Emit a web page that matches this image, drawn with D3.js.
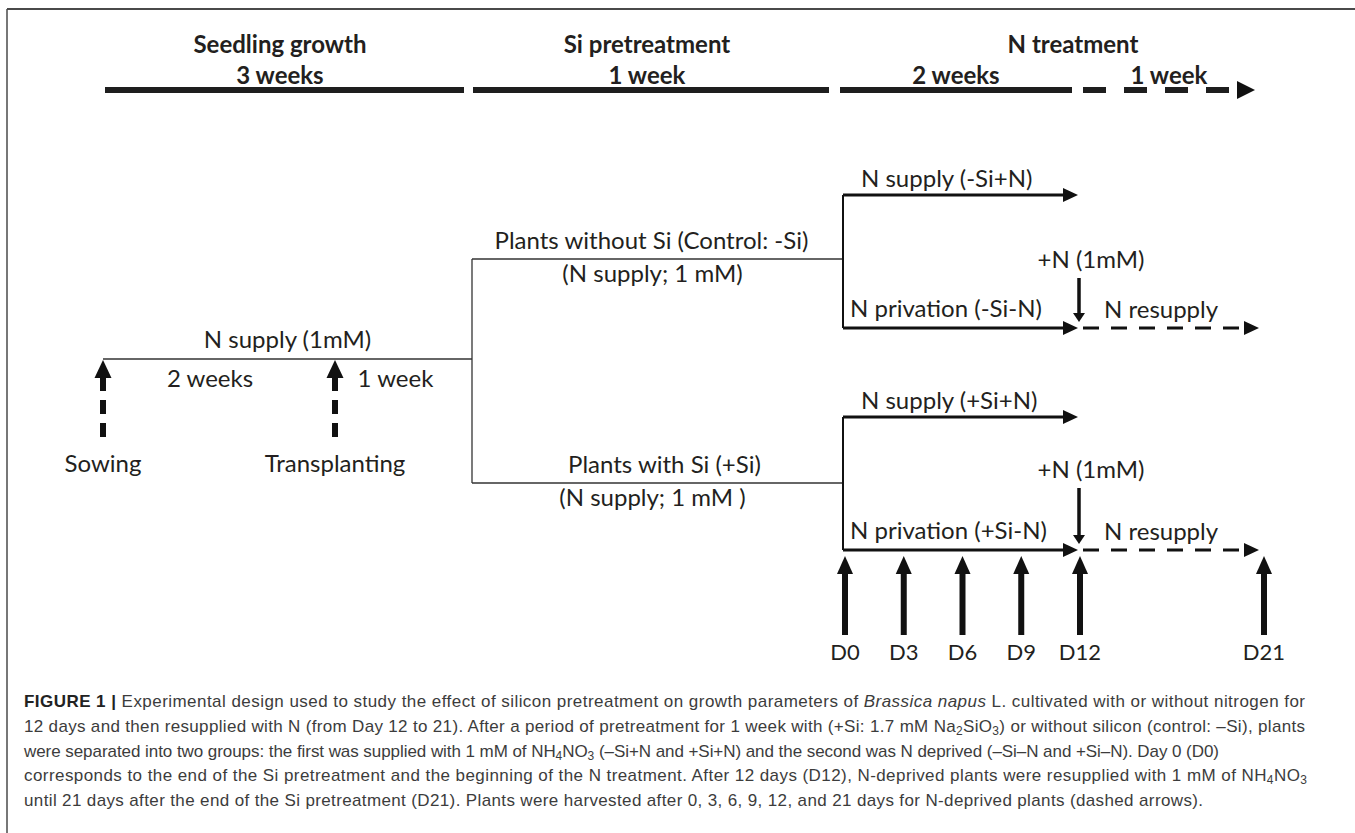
<!DOCTYPE html>
<html>
<head>
<meta charset="utf-8">
<title>Experimental design</title>
<script src="https://cdn.jsdelivr.net/npm/d3@7"></script>
<style>
  body { margin: 0; background: #fff; }
  svg text { fill: #231f20; }
  .cap text { fill: #3c3c3c; }
</style>
</head>
<body>
<svg id="fig" width="1355" height="833"></svg>
<script>
// ---- data (days are counted from D0, the end of Si pretreatment) ----
var phaseNames = ["Seedling growth", "Si pretreatment", "N treatment"];
var phaseDurations = ["3 weeks", "1 week", ""];
var phaseDays = [[-28, -7], [-7, 0], [0, 21]];
var nPeriodLabels = ["2 weeks", "1 week"];
var nPeriodDays = [[0, 14], [14, 21]];

var seedEvents = ["Sowing", "Transplanting"];
var seedEventDays = [-28, -14];
var seedPeriodLabels = ["2 weeks", "1 week"];
var seedPeriodDays = [[-28, -14], [-14, -7]];
var trunkLabel = "N supply (1mM)";

var siGroups = ["Plants without Si (Control: -Si)", "Plants with Si (+Si)"];
var siSupplyLabels = ["(N supply; 1 mM)", "(N supply; 1 mM )"];
var nSupplyLabels = ["N supply (-Si+N)", "N supply (+Si+N)"];
var nPrivationLabels = ["N privation (-Si-N)", "N privation (+Si-N)"];
var resupplyLabel = "N resupply";
var resupplyDose = "+N (1mM)";
var resupplyDay = 12;
var endDay = 21;

var harvestDays = [0, 3, 6, 9, 12, 21];
var harvestLabels = ["D0", "D3", "D6", "D9", "D12", "D21"];

var captionLines = [
  [["FIGURE 1 | ", "b"], ["Experimental design used to study the effect of silicon pretreatment on growth parameters of "], ["Brassica napus", "i"], [" L. cultivated with or without nitrogen for"]],
  [["12 days and then resupplied with N (from Day 12 to 21). After a period of pretreatment for 1 week with (+Si: 1.7 mM Na"], ["2", "sub"], ["SiO"], ["3", "sub"], [") or without silicon (control: \u2013Si), plants"]],
  [["were separated into two groups: the first was supplied with 1 mM of NH"], ["4", "sub"], ["NO"], ["3", "sub"], [" (\u2013Si+N and +Si+N) and the second was N deprived (\u2013Si\u2013N and +Si\u2013N). Day 0 (D0)"]],
  [["corresponds to the end of the Si pretreatment and the beginning of the N treatment. After 12 days (D12), N-deprived plants were resupplied with 1 mM of NH"], ["4", "sub"], ["NO"], ["3", "sub"]],
  [["until 21 days after the end of the Si pretreatment (D21). Plants were harvested after 0, 3, 6, 9, 12, and 21 days for N-deprived plants (dashed arrows)."]]
];
var captionLineEnds = [1305, 1305, 1219, 1307, 1203];

// ---- layout ----
var font = "Lato, 'Open Sans', sans-serif";
var svg = d3.select("#fig");

// timeline of the plants (piecewise: the drawing is not to scale)
var x = d3.scaleLinear().domain([-28, -14, -7, 0, 12, 21]).range([103, 335, 472, 843, 1078, 1262]);
// top ruler
var hx = d3.scaleLinear().domain([-28, -7, 0, 14, 21]).range([101, 469, 835, 1078, 1255]);

var yTrunk = 359;
var ySi = [259, 483];
var groupRows = [
  { supply: 195, priv: 328, doseText: 268, doseTop: 278 },
  { supply: 417, priv: 550, doseText: 478, doseTop: 488 }
];

// frame (top and left rule)
svg.append("line").attr("x1", 7).attr("x2", 1355).attr("y1", 9).attr("y2", 9)
  .attr("stroke", "#4a4a4a").attr("stroke-width", 2);
svg.append("line").attr("x1", 7).attr("x2", 7).attr("y1", 9).attr("y2", 833)
  .attr("stroke", "#4a4a4a").attr("stroke-width", 1.5);

function label(g, txt, px, py, anchor, opts) {
  opts = opts || {};
  return g.append("text").attr("x", px).attr("y", py)
    .attr("text-anchor", anchor || "middle")
    .attr("font-family", font)
    .attr("font-size", opts.size || 24)
    .attr("font-weight", opts.weight || 400)
    .text(txt);
}

// arrow head pointing in direction: "right", "up", "down"
function head(g, tipX, tipY, dir, len, wid) {
  var pts;
  if (dir === "right") pts = [[tipX, tipY], [tipX - len, tipY - wid / 2], [tipX - len, tipY + wid / 2]];
  else if (dir === "up") pts = [[tipX, tipY], [tipX - wid / 2, tipY + len], [tipX + wid / 2, tipY + len]];
  else pts = [[tipX, tipY], [tipX - wid / 2, tipY - len], [tipX + wid / 2, tipY - len]];
  g.append("path").attr("d", d3.line()(pts) + "Z").attr("fill", "#111");
}

// ---- top ruler ----
var ruler = svg.append("g");
phaseNames.forEach(function (name, i) {
  var d = phaseDays[i];
  var cx = i < 2 ? (hx(d[0]) + hx(d[1])) / 2 - 5 : hx(nPeriodDays[0][1]) - 5;
  label(ruler, name, cx, 53, "middle", { weight: 700, size: 24 });
  if (phaseDurations[i]) label(ruler, phaseDurations[i], cx, 84, "middle", { weight: 700, size: 24 });
});
[[phaseDays[0], 4, 5], [phaseDays[1], 4, 6]].forEach(function (p) {
  ruler.append("line").attr("x1", hx(p[0][0]) + p[1]).attr("x2", hx(p[0][1]) - p[2])
    .attr("y1", 90).attr("y2", 90).attr("stroke", "#1e1e1e").attr("stroke-width", 6);
});
nPeriodLabels.forEach(function (lab, i) {
  var d = nPeriodDays[i];
  var x0 = hx(d[0]) + 5, x1 = hx(d[1]) - (i === 0 ? 6 : 18);
  label(ruler, lab, (x0 + x1 + (i === 0 ? 0 : 18)) / 2, 84, "middle", { weight: 700, size: 24 });
  ruler.append("line").attr("x1", x0).attr("x2", x1).attr("y1", 90).attr("y2", 90)
    .attr("stroke", "#1e1e1e").attr("stroke-width", 6)
    .attr("stroke-dasharray", i === 0 ? null : "23 18");
  if (i === 1) head(ruler, hx(d[1]), 90, "right", 18, 18);
});

// ---- seedling trunk ----
var tree = svg.append("g");
tree.append("line").attr("x1", x(-28)).attr("x2", x(-7)).attr("y1", yTrunk).attr("y2", yTrunk)
  .attr("stroke", "#333").attr("stroke-width", 1.3);
label(tree, trunkLabel, (x(-28) + x(-7)) / 2, yTrunk - 11, "middle");
seedPeriodLabels.forEach(function (lab, i) {
  var cx = (x(seedPeriodDays[i][0]) + x(seedPeriodDays[i][1])) / 2 - (i ? 8 : 9);
  label(tree, lab, cx, yTrunk + 28, "middle");
});
seedEvents.forEach(function (ev, i) {
  var ex = x(seedEventDays[i]);
  head(tree, ex, yTrunk + 1, "up", 18, 17);
  tree.append("line").attr("x1", ex).attr("x2", ex).attr("y1", yTrunk + 18).attr("y2", yTrunk + 81)
    .attr("stroke", "#111").attr("stroke-width", 6).attr("stroke-dasharray", "14 9");
  label(tree, ev, ex, yTrunk + 113, "middle");
});

// ---- Si split ----
tree.append("line").attr("x1", x(-7)).attr("x2", x(-7)).attr("y1", ySi[0]).attr("y2", ySi[1])
  .attr("stroke", "#333").attr("stroke-width", 1.3);
siGroups.forEach(function (g, i) {
  tree.append("line").attr("x1", x(-7)).attr("x2", x(0)).attr("y1", ySi[i]).attr("y2", ySi[i])
    .attr("stroke", "#333").attr("stroke-width", 1.3);
  var cx = (x(-7) + x(0)) / 2;
  label(tree, g, cx - (i ? -7 : 6), ySi[i] - 10, "middle");
  label(tree, siSupplyLabels[i], cx - 5, ySi[i] + 23, "middle");
});

// ---- N treatment branches ----
groupRows.forEach(function (r, i) {
  var g = svg.append("g");
  var x0 = x(0), x12 = x(resupplyDay), x21 = x(endDay);
  g.append("line").attr("x1", x0).attr("x2", x0).attr("y1", r.supply).attr("y2", r.priv)
    .attr("stroke", "#111").attr("stroke-width", 2);
  // N supply
  g.append("line").attr("x1", x0).attr("x2", x12 - 14).attr("y1", r.supply).attr("y2", r.supply)
    .attr("stroke", "#111").attr("stroke-width", 3);
  head(g, x12, r.supply, "right", 15, 14);
  label(g, nSupplyLabels[i], x0 + 18, r.supply - 8, "start");
  // N privation
  g.append("line").attr("x1", x0).attr("x2", x12 - 14).attr("y1", r.priv).attr("y2", r.priv)
    .attr("stroke", "#111").attr("stroke-width", 3);
  head(g, x12, r.priv, "right", 15, 14);
  label(g, nPrivationLabels[i], x0 + 7, r.priv - 11, "start");
  // N resupply (dashed)
  g.append("line").attr("x1", x12 + 5).attr("x2", x21 - 18).attr("y1", r.priv).attr("y2", r.priv)
    .attr("stroke", "#111").attr("stroke-width", 3).attr("stroke-dasharray", "16 12");
  head(g, x21 - 3, r.priv, "right", 15, 14);
  label(g, resupplyLabel, x12 + 26, r.priv - 10, "start");
  // +N dose arrow
  label(g, resupplyDose, x12 + 13, r.doseText, "middle");
  g.append("line").attr("x1", x12 + 1).attr("x2", x12 + 1).attr("y1", r.doseTop).attr("y2", r.priv - 14)
    .attr("stroke", "#111").attr("stroke-width", 3.5);
  head(g, x12 + 1, r.priv - 6, "down", 9, 12);
});

// ---- harvest arrows ----
var hv = svg.append("g");
var hy = groupRows[1].priv;
hv.selectAll("path.h").data(harvestDays).enter().append("path").attr("class", "h")
  .attr("d", function (d) {
    var cx = x(d) + 2;
    return d3.line()([[cx, hy + 6], [cx - 8, hy + 24], [cx + 8, hy + 24]]) + "Z";
  }).attr("fill", "#111");
hv.selectAll("line").data(harvestDays).enter().append("line")
  .attr("x1", function (d) { return x(d) + 2; }).attr("x2", function (d) { return x(d) + 2; })
  .attr("y1", hy + 23).attr("y2", hy + 85).attr("stroke", "#111").attr("stroke-width", 6);
hv.selectAll("text").data(harvestDays).enter().append("text")
  .attr("x", function (d) { return x(d) + 2; }).attr("y", hy + 110)
  .attr("text-anchor", "middle").attr("font-family", font).attr("font-size", 22)
  .text(function (d, i) { return harvestLabels[i]; });

// ---- caption ----
var capX = 24;
var cap = svg.append("g").attr("class", "cap");
captionLines.forEach(function (segs, i) {
  var t = cap.append("text").attr("x", capX).attr("y", 707 + i * 24.8)
    .attr("font-family", "'Liberation Sans', Arial, sans-serif").attr("font-size", 17)
    .attr("textLength", captionLineEnds[i] - capX).attr("lengthAdjust", "spacing");
  segs.forEach(function (s, k) {
    var sp = t.append("tspan").text(s[0]);
    if (s[1] === "b") sp.attr("font-weight", 700).attr("fill", "#222");
    if (s[1] === "i") sp.attr("font-style", "italic");
    if (s[1] === "sub") sp.attr("font-size", 12).attr("dy", 3);
    if (s[1] !== "sub" && k > 0 && segs[k - 1][1] === "sub") sp.attr("dy", -3);
  });
});
</script>
</body>
</html>
